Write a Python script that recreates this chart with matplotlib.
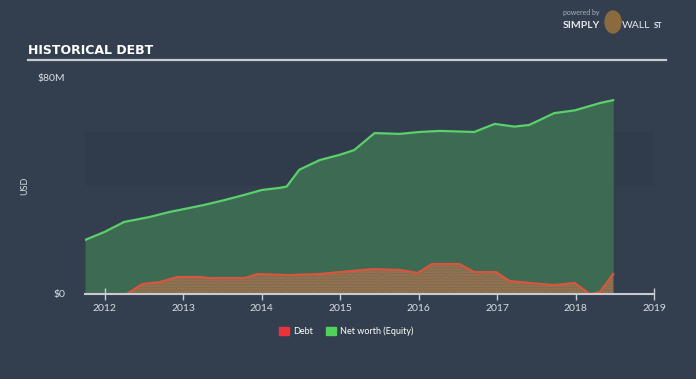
import matplotlib
matplotlib.use("Agg")
import matplotlib.pyplot as plt
from matplotlib.patches import Rectangle, Ellipse

# Net worth (equity), $M, by fractional year
equity_years = [2011.75, 2012.0, 2012.25, 2012.57, 2012.83, 2013.02, 2013.27, 2013.53,
                2013.78, 2014.0, 2014.23, 2014.32, 2014.48, 2014.74, 2014.99, 2015.18,
                2015.44, 2015.76, 2016.01, 2016.27, 2016.71, 2016.97, 2017.22, 2017.41,
                2017.73, 2017.99, 2018.31, 2018.48]
equity_vals = [20.0, 23.0, 26.7, 28.5, 30.4, 31.5, 33.0, 34.8,
               36.7, 38.5, 39.3, 39.8, 46.0, 49.6, 51.5, 53.3,
               59.6, 59.3, 60.0, 60.4, 60.0, 63.0, 62.0, 62.6,
               67.0, 68.0, 70.7, 71.8]

# Debt, $M
debt_years = [2011.75, 2012.28, 2012.48, 2012.70, 2012.93, 2013.21, 2013.34, 2013.78,
              2013.95, 2014.36, 2014.74, 2014.99, 2015.41, 2015.76, 2015.99, 2016.17,
              2016.52, 2016.71, 2016.99, 2017.16, 2017.41, 2017.73, 2017.99, 2018.18,
              2018.31, 2018.48]
debt_vals = [0.0, 0.0, 3.7, 4.4, 6.3, 6.3, 5.9, 5.9,
             7.4, 7.0, 7.4, 8.1, 9.2, 8.9, 7.8, 11.1,
             11.1, 8.1, 8.1, 4.8, 4.1, 3.3, 4.1, 0.0,
             0.7, 7.4]

year_ticks = [2012, 2013, 2014, 2015, 2016, 2017, 2018, 2019]

bg = "#333f4f"
txt = "#d8dde3"
font = ["Lato", "DejaVu Sans"]

fig = plt.figure(figsize=(6.96, 3.79), dpi=100, facecolor=bg)
ax = fig.add_axes([85 / 696, 1 - 294 / 379, 569 / 696, 216 / 379])
ax.set_facecolor(bg)

ax.axhspan(40, 60, color="#2c3746", alpha=0.35, zorder=0, lw=0)

ax.fill_between(equity_years, equity_vals, color="#3c6a52", lw=0, zorder=1)
ax.plot(equity_years, equity_vals, color="#5ad16a", lw=1.6, zorder=3)

ax.fill_between(debt_years, debt_vals, facecolor="#7d6e4f", edgecolor="#a8734f",
                hatch="......", lw=0, zorder=2)
ax.plot(debt_years, debt_vals, color="#d9553e", lw=1.6, zorder=3)

ax.set_xlim(2011.75, 2019)
ax.set_ylim(0, 80)
for s in ["top", "right", "left"]:
    ax.spines[s].set_visible(False)
ax.spines["bottom"].set_color("#c8ccd2")
ax.spines["bottom"].set_linewidth(1.5)
ax.spines["bottom"].set_zorder(4)

ax.set_xticks(year_ticks)
ax.set_xticklabels([str(y) for y in year_ticks], family=font, fontsize=7.5, color=txt)
ax.tick_params(axis="x", direction="inout", length=8, width=1, color="#c8ccd2", pad=3)
ax.set_yticks([0, 80])
ax.set_yticklabels(["$0", "$80M"], family=font, fontsize=7.5, color=txt)
ax.tick_params(axis="y", length=0, pad=14)
ax.set_ylabel("USD", family=font, fontsize=6.5, color=txt, labelpad=6)

fig.text(28 / 696, 1 - 50 / 379, "HISTORICAL DEBT", family=["Liberation Sans Narrow", "DejaVu Sans"],
         fontsize=9, weight="bold", color="white", va="center")
fig.add_artist(plt.Line2D([28 / 696, 666 / 696], [1 - 60 / 379, 1 - 60 / 379],
                          color="#c8ccd2", lw=1.6))

# logo
fig.text(563 / 696, 1 - 15 / 379, "powered by", family=font, fontsize=5, color="#aab2bc")
fig.text(563 / 696, 1 - 26 / 379, "SIMPLY", family=font, fontsize=7.5, weight="bold",
         color="#e6e9ec", va="center")
fig.add_artist(Ellipse((613 / 696, 1 - 22 / 379), 16 / 696, 22 / 379, color="#8a6a3e",
                       transform=fig.transFigure))
fig.text(622 / 696, 1 - 26 / 379, "WALL", family=font, fontsize=7.5, color="#e6e9ec", va="center")
fig.text(654 / 696, 1 - 25 / 379, "ST", family=font, fontsize=5.5, weight="bold",
         color="#e6e9ec", va="center")

# legend
fig.add_artist(Rectangle((279 / 696, 1 - 335 / 379), 10 / 696, 8 / 379,
                         color="#e8333a", transform=fig.transFigure))
fig.text(293 / 696, 1 - 331 / 379, "Debt", family=font, fontsize=6.5, color="white", va="center")
fig.add_artist(Rectangle((326 / 696, 1 - 335 / 379), 10 / 696, 8 / 379,
                         color="#4fd35a", transform=fig.transFigure))
fig.text(340 / 696, 1 - 331 / 379, "Net worth (Equity)", family=font, fontsize=6.5,
         color="white", va="center")

fig.savefig("out.png", dpi=100, facecolor=bg)
